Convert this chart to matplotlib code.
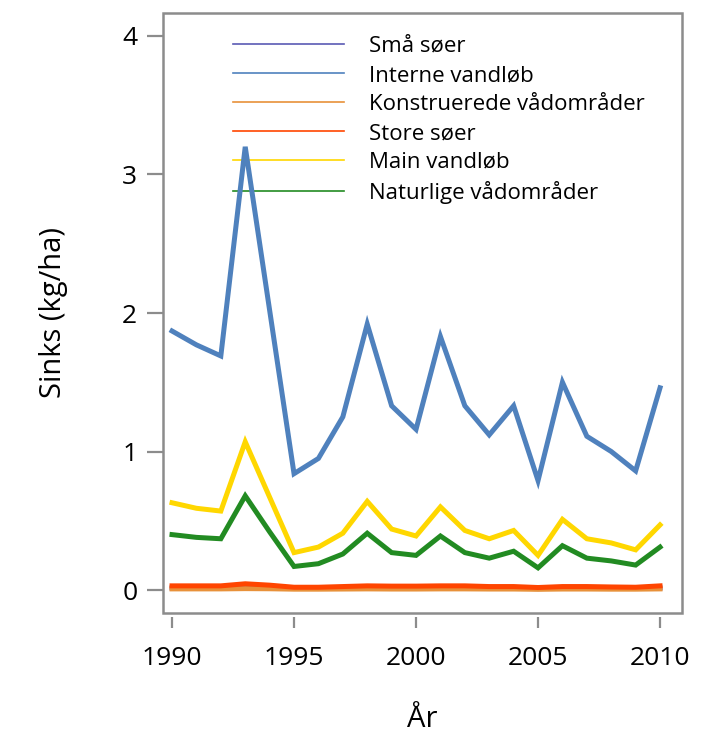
import matplotlib
matplotlib.use("Agg")
import matplotlib.pyplot as plt
from matplotlib.lines import Line2D
from matplotlib.patches import Rectangle

years = list(range(1990, 2011))
sma_soer = [0.015, 0.015, 0.015, 0.028, 0.022, 0.012, 0.012, 0.013, 0.015, 0.014, 0.014,
            0.015, 0.015, 0.013, 0.013, 0.010, 0.013, 0.013, 0.012, 0.011, 0.015]
interne_vandlob = [1.87, 1.77, 1.69, 3.20, 2.02, 0.84, 0.95, 1.25, 1.92, 1.33, 1.16,
                   1.83, 1.33, 1.12, 1.33, 0.79, 1.50, 1.11, 1.00, 0.86, 1.46]
konstruerede = [0.008, 0.008, 0.008, 0.010, 0.009, 0.006, 0.006, 0.007, 0.008, 0.007, 0.007,
                0.008, 0.008, 0.007, 0.007, 0.005, 0.007, 0.007, 0.006, 0.006, 0.008]
store_soer = [0.030, 0.030, 0.030, 0.045, 0.035, 0.020, 0.020, 0.025, 0.030, 0.028, 0.028,
              0.030, 0.030, 0.025, 0.025, 0.018, 0.025, 0.025, 0.022, 0.020, 0.030]
main_vandlob = [0.63, 0.59, 0.57, 1.07, 0.67, 0.27, 0.31, 0.41, 0.64, 0.44, 0.39,
                0.60, 0.43, 0.37, 0.43, 0.25, 0.51, 0.37, 0.34, 0.29, 0.47]
naturlige = [0.40, 0.38, 0.37, 0.68, 0.42, 0.17, 0.19, 0.26, 0.41, 0.27, 0.25,
             0.39, 0.27, 0.23, 0.28, 0.16, 0.32, 0.23, 0.21, 0.18, 0.31]

labels = ["Små søer", "Interne vandløb", "Konstruerede vådområder",
          "Store søer", "Main vandløb", "Naturlige vådområder"]
series = [sma_soer, interne_vandlob, konstruerede, store_soer, main_vandlob, naturlige]
colors = ["#5a5ab4", "#4f81bd", "#e8913a", "#ff4500", "#ffd700", "#228b22"]

x_ticks = [1990, 1995, 2000, 2005, 2010]
y_ticks = [0, 1, 2, 3, 4]

plt.rcParams['font.family'] = ['Open Sans', 'DejaVu Sans']
fig = plt.figure(figsize=(7.26, 7.33), dpi=100)
ax = fig.add_axes([163/726, 1-613/733, (682-163)/726, (613-13)/733])

for s, c in zip(series, colors):
    ax.plot(years, s, color=c, lw=3.6, zorder=3, solid_joinstyle='miter')

ax.set_xlim(1989.63, 2010.90)
ax.set_ylim(-0.166, 4.166)
ax.set_xticks(x_ticks)
ax.set_yticks(y_ticks)

gray = "#8c8c8c"
for sp in ax.spines.values():
    sp.set_visible(False)
ax.spines['bottom'].set_position(('outward', 3))
ax.add_patch(Rectangle((0, 0), 1, 1, transform=ax.transAxes, fill=False,
                       edgecolor=gray, lw=1.8, zorder=5, clip_on=False))
ax.tick_params(axis='y', length=11.5, width=1.6, color=gray, labelsize=19, pad=7)
ax.tick_params(axis='x', length=8, width=1.6, color=gray, labelsize=19, pad=13)

ax.set_xlabel("År", fontsize=21, labelpad=24)
ax.set_ylabel("Sinks (kg/ha)", fontsize=21, labelpad=39)

handles = [Line2D([], [], color=c, lw=1.2) for c in colors]
leg = ax.legend(handles, labels, loc='upper left', bbox_to_anchor=(233/726, 1-36/733),
                bbox_transform=fig.transFigure, frameon=False, fontsize=16,
                handlelength=5.0, handletextpad=1.1, labelspacing=0.36,
                borderpad=0, borderaxespad=0)
leg.set_zorder(1)

fig.savefig("out.png", dpi=100)
